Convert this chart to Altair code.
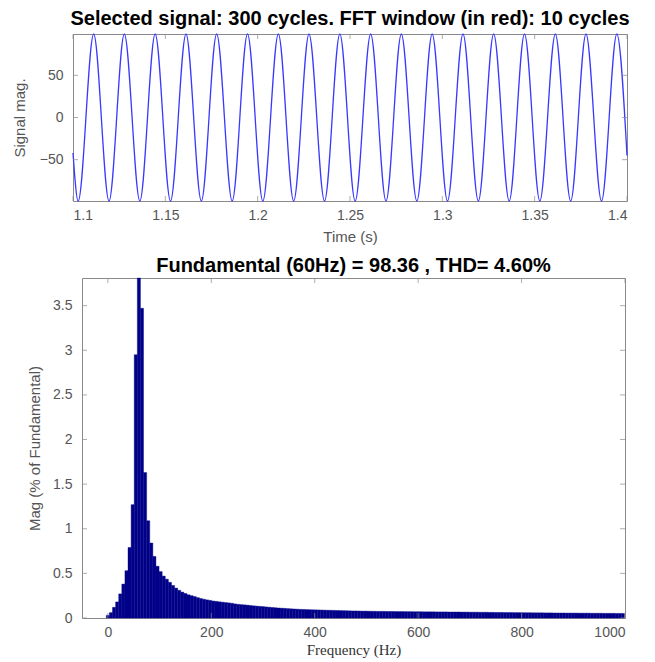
import altair as alt
import pandas as pd

# ---------------- data ----------------
# Top panel: signal extrema (time in s, magnitude)
sig_t = [1.1000, 1.1028, 1.1112, 1.1195, 1.1278, 1.1362, 1.1445, 1.1528, 1.1612,
         1.1695, 1.1778, 1.1862, 1.1945, 1.2028, 1.2112, 1.2195, 1.2278, 1.2362,
         1.2445, 1.2528, 1.2612, 1.2695, 1.2778, 1.2862, 1.2945, 1.3028, 1.3112,
         1.3195, 1.3278, 1.3362, 1.3445, 1.3528, 1.3612, 1.3695, 1.3778, 1.3862,
         1.3945, 1.4000]
sig_v = [-42, -99, 99, -99, 99, -99, 99, -99, 99,
         -99, 99, -99, 99, -99, 99, -99, 99, -99,
         99, -99, 99, -99, 99, -99, 99, -99, 99,
         -99, 99, -99, 99, -99, 99, -99, 99, -99,
         99, -45]

# Bottom panel: FFT magnitude (% of fundamental), one bar per 6 Hz bin from 0 Hz
freq_step = 6
mag = [
    0.03, 0.06, 0.12, 0.18, 0.27, 0.38, 0.53, 0.79, 1.27, 2.95,
    3.81, 3.47, 1.63, 1.09, 0.84, 0.69, 0.58, 0.52, 0.47, 0.435,
    0.40, 0.365, 0.335, 0.31, 0.29, 0.275, 0.26, 0.25, 0.24, 0.228,
    0.218, 0.21, 0.203, 0.197, 0.19, 0.186, 0.181, 0.177, 0.173, 0.169,
    0.165, 0.158, 0.153, 0.150, 0.147, 0.144, 0.140, 0.136, 0.133, 0.130,
    0.128, 0.124, 0.121, 0.118, 0.115, 0.112, 0.110, 0.108, 0.105, 0.103,
    0.101, 0.099, 0.097, 0.096, 0.094, 0.093, 0.092, 0.091, 0.090, 0.089,
    0.088, 0.087, 0.086, 0.085, 0.084, 0.083, 0.082, 0.081, 0.080, 0.079,
    0.079, 0.078, 0.077, 0.077, 0.076, 0.075, 0.075, 0.074, 0.074, 0.074,
    0.073, 0.073, 0.073, 0.072, 0.072, 0.072, 0.071, 0.071, 0.071, 0.070,
    0.070, 0.070, 0.069, 0.069, 0.069, 0.069, 0.068, 0.068, 0.068, 0.068,
    0.067, 0.067, 0.067, 0.067, 0.066, 0.066, 0.066, 0.065, 0.065, 0.065,
    0.064, 0.064, 0.064, 0.063, 0.063, 0.062, 0.062, 0.062, 0.061, 0.061,
    0.061, 0.060, 0.060, 0.060, 0.059, 0.059, 0.059, 0.058, 0.058, 0.058,
    0.058, 0.057, 0.057, 0.057, 0.056, 0.056, 0.056, 0.056, 0.055, 0.055,
    0.055, 0.055, 0.054, 0.054, 0.054, 0.054, 0.053, 0.053, 0.053, 0.053,
    0.052, 0.052, 0.052, 0.052, 0.051, 0.051, 0.051,
]
freq = [i * freq_step for i in range(len(mag))]

time_ticks = [1.1, 1.15, 1.2, 1.25, 1.3, 1.35, 1.4]
sig_ticks = [-50, 0, 50]
freq_ticks = [0, 200, 400, 600, 800, 1000]
mag_ticks = [0, 0.5, 1, 1.5, 2, 2.5, 3, 3.5]

title_top = "Selected signal: 300 cycles. FFT window (in red): 10 cycles"
title_bot = "Fundamental (60Hz) = 98.36 , THD= 4.60%"

# ---------------- styling ----------------
FRAME = "#8a8a8a"
TXT = "#555555"
FONT = "Liberation Sans"
BAR = "#000088"
W1, H1 = 554, 167
W2, H2 = 543, 340
TK = 5  # inward tick length

# ---------------- top panel ----------------
sig_df = pd.DataFrame({"t": sig_t, "v": sig_v})
xs1 = alt.Scale(domain=[1.1, 1.4], nice=False, zero=False)
ys1 = alt.Scale(domain=[-99, 99], nice=False, zero=False)

ax_t = alt.Axis(values=time_ticks, format="~g", title="Time (s)",
                tickSize=0, labelPadding=7, titlePadding=7,
                domain=False, grid=False)
ax_v = alt.Axis(values=sig_ticks, title="Signal mag.",
                tickSize=0, labelPadding=10, titlePadding=12,
                domain=False, grid=False)

line = alt.Chart(sig_df).mark_line(
    color="#3838ff", strokeWidth=1.3, interpolate="monotone"
).encode(
    x=alt.X("t:Q", scale=xs1, axis=ax_t),
    y=alt.Y("v:Q", scale=ys1, axis=ax_v),
)

tx1 = pd.DataFrame({"t": time_ticks})
ty1 = pd.DataFrame({"v": sig_ticks})
top_ticks = [
    alt.Chart(tx1).mark_tick(color=FRAME, size=TK, thickness=1, orient="vertical").encode(
        x=alt.X("t:Q", scale=xs1, axis=ax_t), y=alt.value(H1 - TK / 2)),
    alt.Chart(tx1).mark_tick(color=FRAME, size=TK, thickness=1, orient="vertical").encode(
        x=alt.X("t:Q", scale=xs1, axis=ax_t), y=alt.value(TK / 2)),
    alt.Chart(ty1).mark_tick(color=FRAME, size=TK, thickness=1, orient="horizontal").encode(
        y=alt.Y("v:Q", scale=ys1, axis=ax_v), x=alt.value(TK / 2)),
    alt.Chart(ty1).mark_tick(color=FRAME, size=TK, thickness=1, orient="horizontal").encode(
        y=alt.Y("v:Q", scale=ys1, axis=ax_v), x=alt.value(W1 - TK / 2)),
]

top = alt.layer(line, *top_ticks).properties(
    width=W1, height=H1,
    title=alt.TitleParams(title_top, fontSize=20, fontWeight="bold", font=FONT,
                          color="#000000", offset=2, anchor="middle"),
)

# ---------------- bottom panel ----------------
fft_df = pd.DataFrame({"f": freq, "m": mag})
fft_df["f0"] = fft_df["f"] - freq_step / 2
fft_df["f1"] = fft_df["f"] + freq_step / 2
xs2 = alt.Scale(domain=[-50, 1000], nice=False, zero=False)
ys2 = alt.Scale(domain=[0, 3.81], nice=False, zero=False)

ax_f = alt.Axis(values=freq_ticks, format="d", title="Frequency (Hz)",
                tickSize=0, labelPadding=7, titlePadding=3,
                titleFont="Liberation Serif", titleColor="#333333",
                domain=False, grid=False)
ax_m = alt.Axis(values=mag_ticks, format="~g", title="Mag (% of Fundamental)",
                tickSize=0, labelPadding=10, titlePadding=10,
                domain=False, grid=False)

bars = alt.Chart(fft_df).mark_rect(color=BAR, stroke=BAR, strokeWidth=0.4).encode(
    x=alt.X("f0:Q", scale=xs2, axis=ax_f),
    x2="f1:Q",
    y=alt.Y("m:Q", scale=ys2, axis=ax_m),
    y2=alt.datum(0),
)

tx2 = pd.DataFrame({"f0": freq_ticks})
ty2 = pd.DataFrame({"m": mag_ticks})
bot_ticks = [
    alt.Chart(tx2).mark_tick(color=FRAME, size=TK, thickness=1, orient="vertical").encode(
        x=alt.X("f0:Q", scale=xs2, axis=ax_f), y=alt.value(H2 - TK / 2)),
    alt.Chart(tx2).mark_tick(color=FRAME, size=TK, thickness=1, orient="vertical").encode(
        x=alt.X("f0:Q", scale=xs2, axis=ax_f), y=alt.value(TK / 2)),
    alt.Chart(ty2).mark_tick(color=FRAME, size=TK, thickness=1, orient="horizontal").encode(
        y=alt.Y("m:Q", scale=ys2, axis=ax_m), x=alt.value(TK / 2)),
    alt.Chart(ty2).mark_tick(color=FRAME, size=TK, thickness=1, orient="horizontal").encode(
        y=alt.Y("m:Q", scale=ys2, axis=ax_m), x=alt.value(W2 - TK / 2)),
]

bottom = alt.layer(bars, *bot_ticks).properties(
    width=W2, height=H2,
    title=alt.TitleParams(title_bot, fontSize=20, fontWeight="bold", font=FONT,
                          color="#000000", offset=2, anchor="middle"),
)

spacer = alt.Chart(pd.DataFrame({"a": [0]})).mark_point(opacity=0).encode(
    x=alt.value(0), y=alt.value(0)
).properties(width=9, height=H2, view=alt.ViewBackground(strokeOpacity=0))

row2 = alt.hconcat(spacer, bottom, spacing=0, bounds="flush")

chart = alt.vconcat(top, row2, spacing=77, bounds="flush").properties(
    padding={"left": 3, "top": 0, "right": 5, "bottom": 0}
).configure_view(
    stroke=FRAME, strokeWidth=1
).configure_axis(
    labelFont=FONT, labelFontSize=14, labelColor=TXT,
    titleFont=FONT, titleFontSize=15, titleColor=TXT, titleFontWeight="normal",
)

chart.save("out.html", embed_options={"renderer": "svg", "actions": False})
